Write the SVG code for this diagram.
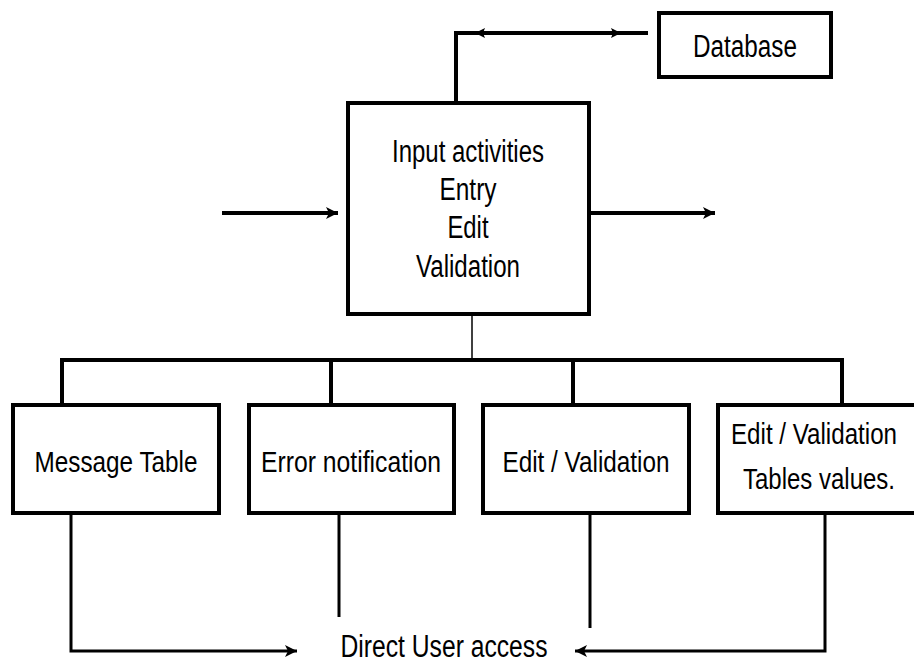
<svg xmlns="http://www.w3.org/2000/svg" width="914" height="664" viewBox="0 0 914 664">
<style>
.box{fill:#fff;stroke:#000;stroke-width:4}
.ln{fill:none;stroke:#000;stroke-width:4}
.lm{fill:none;stroke:#000;stroke-width:3}
.thin{fill:none;stroke:#000;stroke-width:1.5}
text{font-family:"Liberation Sans",Arial,sans-serif;fill:#000;text-anchor:middle}
.t30{font-size:31px}
.t28{font-size:29px}
</style>
<defs>
<marker id="ah" markerUnits="userSpaceOnUse" markerWidth="14" markerHeight="12" refX="12" refY="6" orient="auto">
<path d="M0,0 L12,6 L0,12 L3,6 Z" fill="#000"/>
</marker>
<marker id="ahs" markerUnits="userSpaceOnUse" markerWidth="12" markerHeight="10" refX="5" refY="5" orient="auto">
<path d="M0,0 L10,5 L0,10 L2,5 Z" fill="#000"/>
</marker>
</defs>
<g id="connectors">
<path class="ln" d="M456,101 V33 H648"/>
<path class="ln" d="M490,33 L480,33" marker-end="url(#ahs)"/>
<path class="ln" d="M606,33 L616,33" marker-end="url(#ahs)"/>
<path class="ln" d="M222,213 H338" marker-end="url(#ah)"/>
<path class="ln" d="M591,213 H715" marker-end="url(#ah)"/>
<path class="thin" d="M472,316 V360"/>
<path class="ln" d="M62,405 V360 H842 V405"/>
<path class="ln" d="M331,360 V405"/>
<path class="ln" d="M573,360 V405"/>
<path class="lm" d="M71,515 V651 H297" marker-end="url(#ah)"/>
<path class="lm" d="M339,515 V617"/>
<path class="lm" d="M590,515 V628"/>
<path class="lm" d="M825,515 V651 H575" marker-end="url(#ah)"/>
</g>
<g id="database">
<rect class="box" x="659" y="13" width="172" height="64"/>
<text class="t30" x="745" y="57" textLength="104" lengthAdjust="spacingAndGlyphs">Database</text>
</g>
<g id="input">
<rect class="box" x="348" y="103" width="241" height="211"/>
<text class="t30" x="468" y="162" textLength="152" lengthAdjust="spacingAndGlyphs">Input activities</text>
<text class="t30" x="468" y="200" textLength="57" lengthAdjust="spacingAndGlyphs">Entry</text>
<text class="t30" x="468" y="238" textLength="41" lengthAdjust="spacingAndGlyphs">Edit</text>
<text class="t30" x="468" y="277" textLength="104" lengthAdjust="spacingAndGlyphs">Validation</text>
</g>
<g id="message-table">
<rect class="box" x="13" y="405" width="206" height="108"/>
<text class="t28" x="116" y="472" textLength="163" lengthAdjust="spacingAndGlyphs">Message Table</text>
</g>
<g id="error-notification">
<rect class="box" x="249" y="405" width="205" height="108"/>
<text class="t28" x="351" y="472" textLength="180" lengthAdjust="spacingAndGlyphs">Error notification</text>
</g>
<g id="edit-validation">
<rect class="box" x="483" y="405" width="206" height="108"/>
<text class="t28" x="586" y="472" textLength="167" lengthAdjust="spacingAndGlyphs">Edit / Validation</text>
</g>
<g id="edit-validation-tables">
<rect class="box" x="718" y="405" width="210" height="108"/>
<text class="t28" x="814" y="444" textLength="166" lengthAdjust="spacingAndGlyphs">Edit / Validation</text>
<text class="t28" x="819" y="489" textLength="152" lengthAdjust="spacingAndGlyphs">Tables values.</text>
</g>
<g id="direct-user-access">
<text class="t30" x="444" y="657" textLength="207" lengthAdjust="spacingAndGlyphs">Direct User access</text>
</g>
</svg>
